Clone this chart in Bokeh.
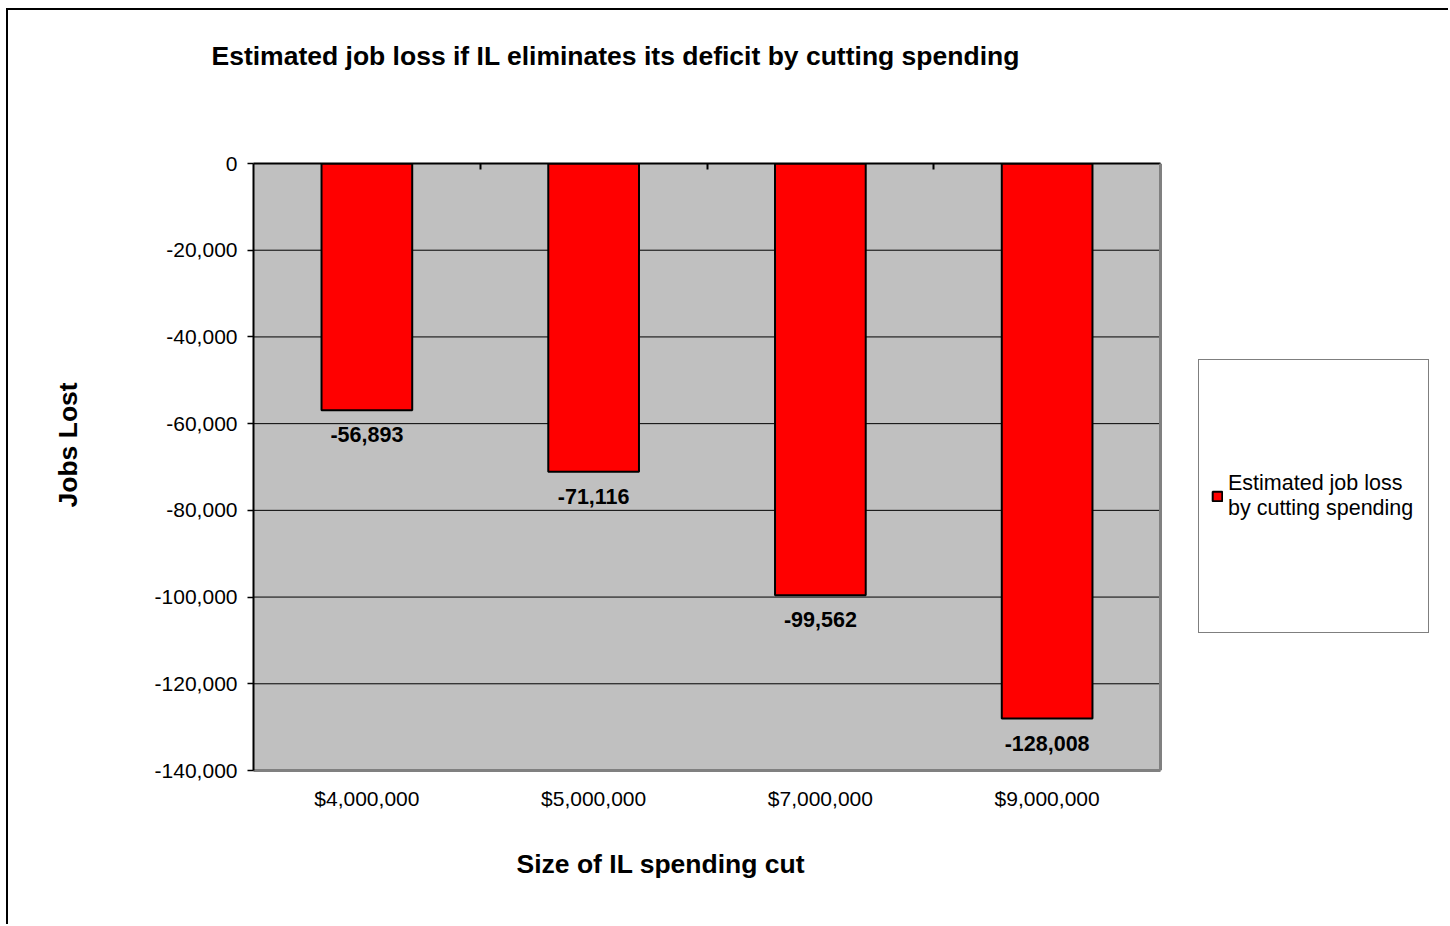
from bokeh.plotting import figure
from bokeh.models import (Range1d, FixedTicker, LinearAxis, NumeralTickFormatter,
                          Title, Legend, LegendItem, BoxAnnotation, Span)
from bokeh.embed import file_html
from bokeh.resources import INLINE
from bokeh.core.properties import value

# ---- data ----
categories = ["$4,000,000", "$5,000,000", "$7,000,000", "$9,000,000"]
jobs_lost = [-56893, -71116, -99562, -128008]
y_ticks = [0, -20000, -40000, -60000, -80000, -100000, -120000, -140000]
series_name = "Estimated job loss\nby cutting spending"
title_text = "Estimated job loss if IL eliminates its deficit by cutting spending"
x_title = "Size of IL spending cut"
y_title = "Jobs Lost"

FONT = "Liberation Sans"
W, H = 1442, 916
FL, PR, FT, FB = 245, 1152, 153, 760   # plot-area edges in canvas px
RB = 0                                  # right border; frame extends to hold legend
FR = W - RB
N = len(categories)
X_END = N * (FR - FL) / (PR - FL)       # frame extends past the plot area (legend zone)
YMIN, YMAX = min(y_ticks), max(y_ticks)

xs = [i + 0.5 for i in range(N)]
labels = ["{:,}".format(v) for v in jobs_lost]

p = figure(width=W, height=H, output_backend="svg", toolbar_location=None,
           title=None,
           x_range=Range1d(0, X_END), y_range=Range1d(YMIN, YMAX),
           min_border_left=FL, min_border_right=RB,
           min_border_top=FT, min_border_bottom=H - FB,
           x_axis_location=None, y_axis_location=None)
p.styles = {"border-top": "2px solid black", "border-left": "2px solid black",
            "margin-left": "6px", "margin-top": "8px"}
p.background_fill_color = "white"
p.border_fill_color = "white"
p.outline_line_color = None

# gray plot area
p.add_layout(BoxAnnotation(left=0, right=N, fill_color="#C0C0C0", fill_alpha=1,
                           line_color=None, level="image"))
p.add_layout(Span(location=N, dimension="height", line_color="#808080", line_width=3))

# horizontal gridlines across the plot area only
p.segment(x0=[0] * len(y_ticks), x1=[N] * len(y_ticks), y0=y_ticks, y1=y_ticks,
          line_color="black", line_width=1)
p.xgrid.grid_line_color = None
p.ygrid.grid_line_color = None


def spacer_axis(gap, tick):
    ax = LinearAxis(ticker=FixedTicker(ticks=[tick]), major_label_overrides={tick: " "})
    ax.major_label_text_font_size = "2px"
    ax.major_label_text_color = "white"
    ax.major_tick_in = 0
    ax.major_tick_out = 0
    ax.minor_tick_line_color = None
    ax.major_tick_line_color = None
    ax.axis_line_color = None
    ax.major_label_standoff = gap
    return ax


# y axis
yax = LinearAxis(ticker=FixedTicker(ticks=y_ticks),
                 formatter=NumeralTickFormatter(format="0,0"))
yax.major_label_text_font = FONT
yax.major_label_text_font_size = "21px"
yax.major_label_text_color = "black"
yax.major_tick_out = 6
yax.major_tick_in = 0
yax.major_tick_line_color = "black"
yax.major_tick_line_width = 1.5
yax.minor_tick_line_color = None
yax.axis_line_color = "black"
yax.axis_line_width = 2
yax.major_label_standoff = 10
p.add_layout(yax, "left")
p.add_layout(spacer_axis(64, -70000), "left")
p.add_layout(Title(text=y_title, align="left", offset=263, vertical_align="middle",
                   standoff=0, text_font=FONT, text_font_style="bold",
                   text_font_size="26.5px", text_color="black"), "left")

# bottom category labels
xax = LinearAxis(ticker=FixedTicker(ticks=xs), bounds=(0, N),
                 major_label_overrides={x: c for x, c in zip(xs, categories)})
xax.major_label_text_font = FONT
xax.major_label_text_font_size = "21px"
xax.major_label_text_color = "black"
xax.major_tick_line_color = None
xax.minor_tick_line_color = None
xax.major_tick_in = 0
xax.major_tick_out = 0
xax.axis_line_color = "#808080"
xax.axis_line_width = 3
xax.major_label_standoff = 16
p.add_layout(xax, "below")
p.add_layout(spacer_axis(30, 2), "below")
p.add_layout(Title(text=x_title, align="left", offset=263, vertical_align="middle",
                   standoff=0, text_font=FONT, text_font_style="bold",
                   text_font_size="26.5px", text_color="black"), "below")

# top axis line (category axis crossing at 0) with boundary ticks
tax = LinearAxis(ticker=FixedTicker(ticks=list(range(1, N))), bounds=(0, N),
                 major_label_overrides={i: " " for i in range(1, N)})
tax.major_label_text_color = "white"
tax.major_label_text_font_size = "2px"
tax.major_tick_in = 6
tax.major_tick_out = 0
tax.major_tick_line_color = "black"
tax.major_tick_line_width = 2
tax.minor_tick_line_color = None
tax.axis_line_color = "black"
tax.axis_line_width = 2
tax.major_label_standoff = 87
p.add_layout(tax, "above")
p.add_layout(Title(text=title_text, align="left", offset=-42, vertical_align="middle",
                   standoff=0, text_font=FONT, text_font_style="bold",
                   text_font_size="26.5px", text_color="black"), "above")

bars = p.vbar(x=xs, top=jobs_lost, bottom=0, width=0.4,
              fill_color="#FF0000", line_color="black", line_width=2)

p.text(x=xs, y=jobs_lost, text=labels, text_align="center", text_baseline="top",
       y_offset=17, text_font=value(FONT), text_font_style="bold",
       text_font_size="21.5px", text_color="black")

legend = Legend(items=[LegendItem(label=series_name, renderers=[bars])],
                location=(945, 137), padding=12, margin=0,
                glyph_width=12, glyph_height=12, label_standoff=5,
                label_height=248, label_width=188,
                label_text_font=FONT, label_text_font_size="21.5px",
                label_text_color="black",
                border_line_color="black", border_line_width=1.5,
                background_fill_color="white", background_fill_alpha=1)
p.add_layout(legend, "center")

open("out.html", "w").write(file_html(p, INLINE))
